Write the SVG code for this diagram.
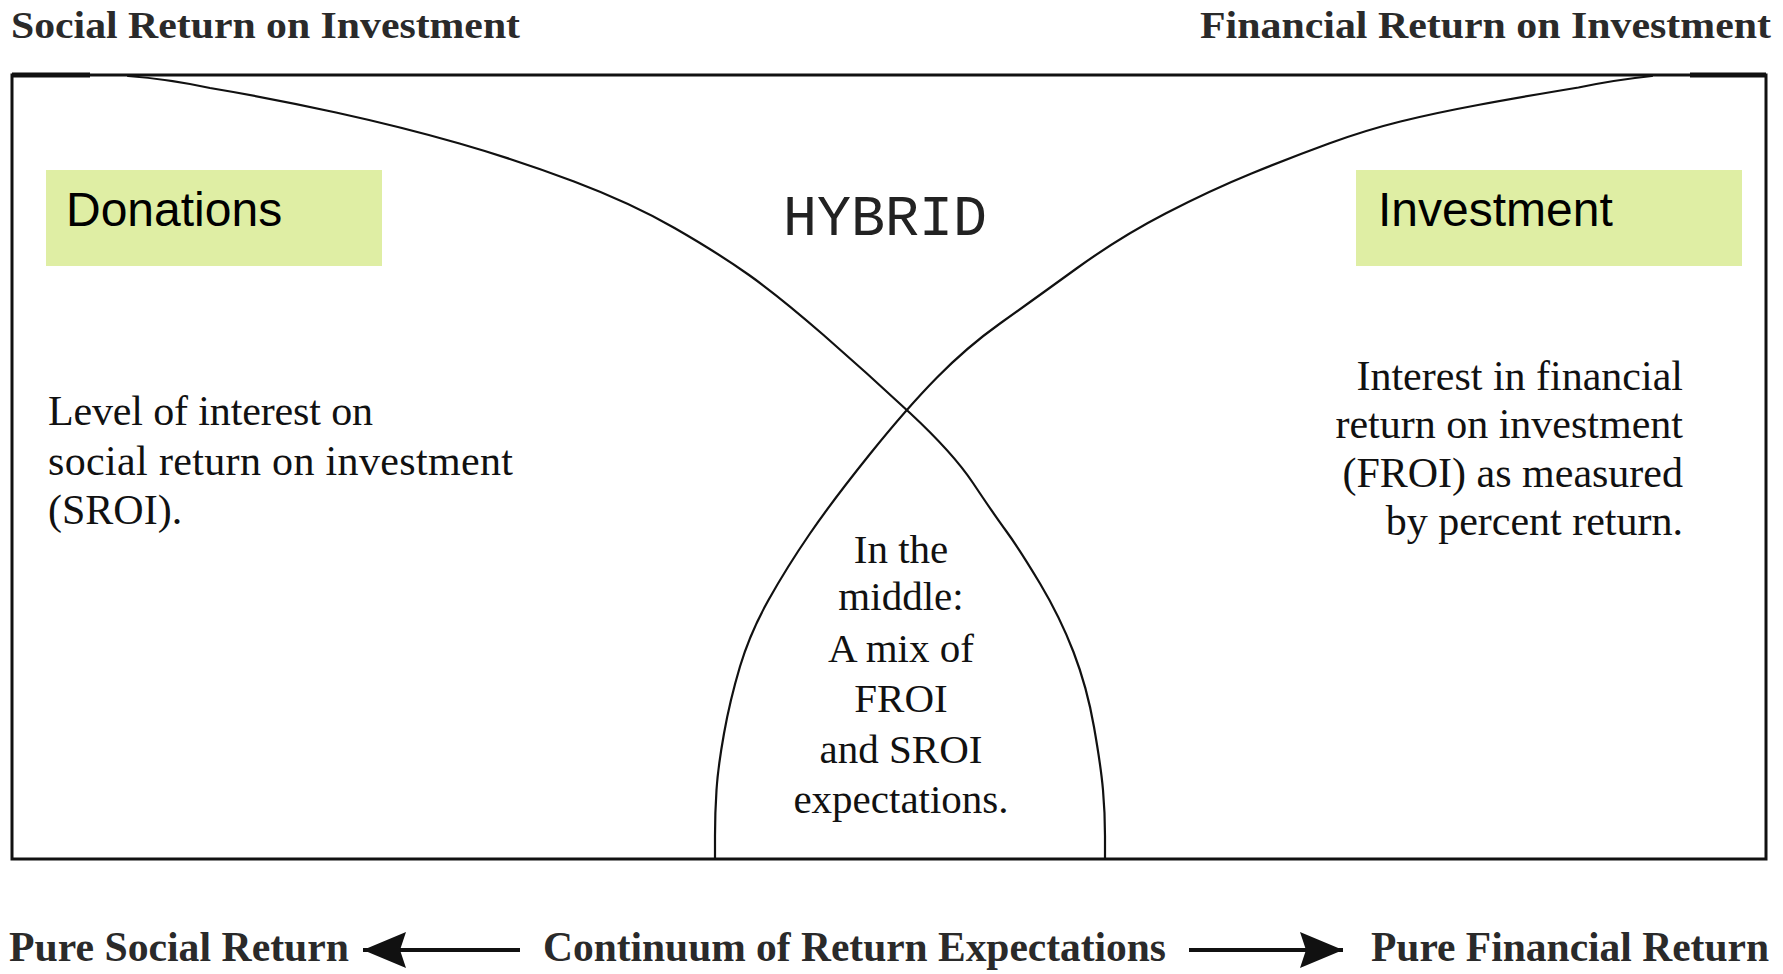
<svg xmlns="http://www.w3.org/2000/svg" width="1783" height="974" viewBox="0 0 1783 974">
  <style>
    .frame { fill: none; stroke: #111; stroke-width: 3; }
    .curve { fill: none; stroke: #111; stroke-width: 2.2; stroke-linecap: round; stroke-linejoin: round; }
    .heavy { stroke: #111; stroke-width: 5; }
    .box { fill: #dfeea4; }
    .boxlabel { font-family: "Liberation Sans", Arial, sans-serif; font-size: 48px; fill: #000; }
    .head { font-family: "Liberation Serif", "Times New Roman", serif; font-weight: bold; font-size: 38px; fill: #2a2a2a; }
    .foot { font-family: "Liberation Serif", "Times New Roman", serif; font-weight: bold; font-size: 42px; fill: #2a2a2a; }
    .body { font-family: "Liberation Serif", "Times New Roman", serif; font-size: 42px; fill: #111; }
    .mid { font-family: "Liberation Serif", "Times New Roman", serif; font-size: 41px; fill: #111; text-anchor: middle; }
    .hybrid { font-family: "Liberation Mono", "Courier New", monospace; font-size: 57px; fill: #222; }
    .arrow { stroke: #111; stroke-width: 4; fill: none; }
  </style>
  <defs>
    <marker id="ah" viewBox="0 0 43 36" refX="43" refY="18" markerWidth="43" markerHeight="36" markerUnits="userSpaceOnUse" orient="auto">
      <path d="M0,0 L43,18 L0,36 L6,18 Z" fill="#111"/>
    </marker>
  </defs>
  <rect width="1783" height="974" fill="#fff"/>

  <g id="frame">
    <rect class="frame" x="12" y="75" width="1754" height="784"/>
    <line class="heavy" x1="12" y1="75" x2="90" y2="75"/>
    <line class="heavy" x1="1690" y1="75" x2="1766" y2="75"/>
  </g>

  <g id="connectors">
    <path id="social-curve" class="curve" d="M 128 76 Q 168 79 210 88 Q 270 98 336 112.5 Q 402 127 459.5 143.5 Q 517 160 574 181.5 Q 631 203 674.5 228 Q 718 253 749 275 Q 780 297 823.5 335 Q 867 373 910 413 Q 953 453 973 483 Q 993 513 1006.5 531.5 Q 1020 550 1040 583.5 Q 1060 617 1073.5 652 Q 1087 687 1094 727 Q 1101 767 1103 790 Q 1105 813 1105 836 L 1105 859"/>
    <path id="financial-curve" class="curve" d="M 1652 76 Q 1614 80 1578.5 87.5 Q 1521 97 1478 105 Q 1435 113 1400.5 121.5 Q 1366 130 1329 143.5 Q 1292 157 1251.5 173.5 Q 1211 190 1165.5 213.5 Q 1120 237 1076.5 268.5 Q 1033 300 1000 323.5 Q 967 347 937 377.5 Q 907 408 870 454 Q 833 500 810 533.5 Q 787 567 768.5 600 Q 750 633 740 666.5 Q 730 700 724 733.5 Q 718 767 716.5 790 Q 715 813 715 836 L 715 859"/>
    <line class="arrow" x1="520" y1="950" x2="363" y2="950" marker-end="url(#ah)"/>
    <line class="arrow" x1="1189" y1="950" x2="1343" y2="950" marker-end="url(#ah)"/>
  </g>

  <g id="title-social">
    <text class="head" x="11" y="38" textLength="509" lengthAdjust="spacingAndGlyphs">Social Return on Investment</text>
  </g>
  <g id="title-financial">
    <text class="head" x="1200" y="38" textLength="571" lengthAdjust="spacingAndGlyphs">Financial Return on Investment</text>
  </g>

  <g id="donations">
    <rect class="box" x="46" y="170" width="336" height="96"/>
    <text class="boxlabel" x="66" y="226">Donations</text>
  </g>

  <g id="investment">
    <rect class="box" x="1356" y="170" width="386" height="96"/>
    <text class="boxlabel" x="1378" y="226">Investment</text>
  </g>

  <g id="hybrid">
    <text class="hybrid" x="783" y="235" textLength="204" lengthAdjust="spacingAndGlyphs">HYBRID</text>
  </g>

  <g id="social-desc">
    <text class="body" x="48" y="425" textLength="325">Level of interest on</text>
    <text class="body" x="48" y="475" textLength="465">social return on investment</text>
    <text class="body" x="48" y="524">(SROI).</text>
  </g>

  <g id="financial-desc">
    <text class="body" x="1683" y="390" text-anchor="end">Interest in financial</text>
    <text class="body" x="1683" y="438" text-anchor="end">return on investment</text>
    <text class="body" x="1683" y="487" text-anchor="end">(FROI) as measured</text>
    <text class="body" x="1683" y="535" text-anchor="end">by percent return.</text>
  </g>

  <g id="middle-desc">
    <text class="mid" x="901" y="563">In the</text>
    <text class="mid" x="901" y="610">middle:</text>
    <text class="mid" x="901" y="662">A mix of</text>
    <text class="mid" x="901" y="712">FROI</text>
    <text class="mid" x="901" y="763">and SROI</text>
    <text class="mid" x="901" y="813">expectations.</text>
  </g>

  <g id="pure-social">
    <text class="foot" x="9" y="961" textLength="340" lengthAdjust="spacingAndGlyphs">Pure Social Return</text>
  </g>
  <g id="continuum">
    <text class="foot" x="543" y="961" textLength="623" lengthAdjust="spacingAndGlyphs">Continuum of Return Expectations</text>
  </g>
  <g id="pure-financial">
    <text class="foot" x="1371" y="961" textLength="398" lengthAdjust="spacingAndGlyphs">Pure Financial Return</text>
  </g>
</svg>
